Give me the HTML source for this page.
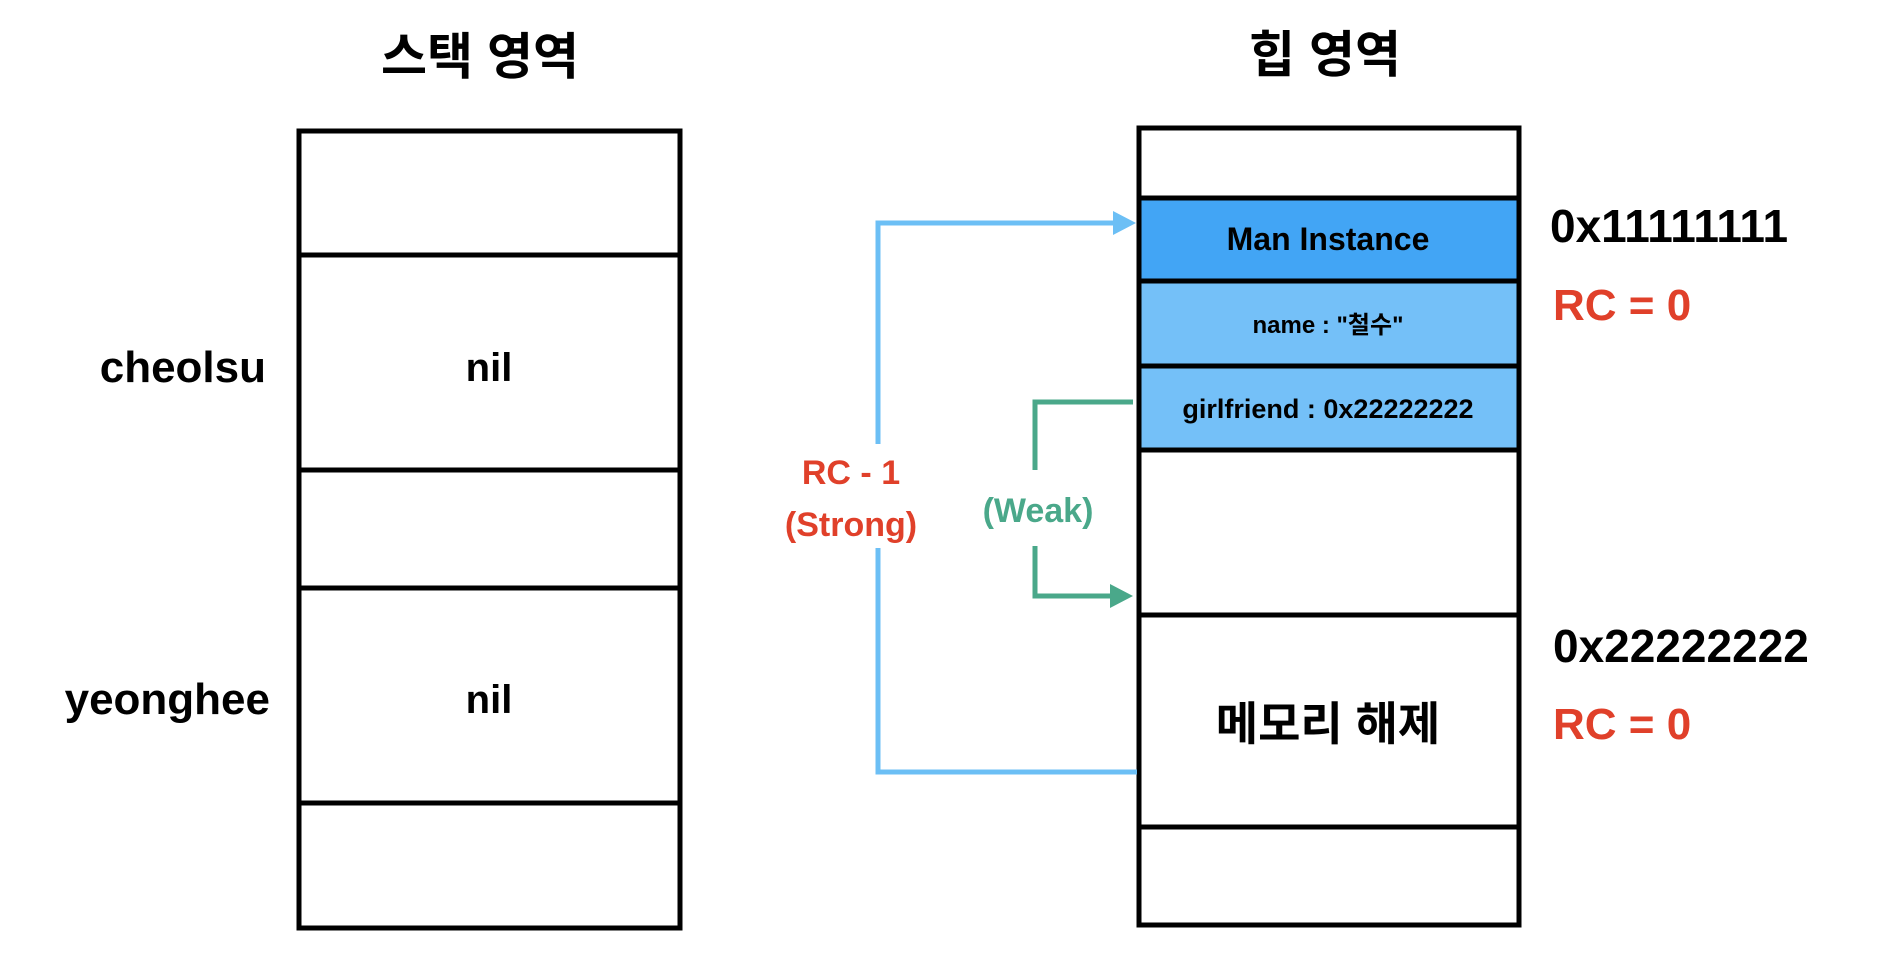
<!DOCTYPE html>
<html><head><meta charset="utf-8"><style>
body{margin:0;background:#fff;}
svg text{font-family:"Liberation Sans","Noto Sans CJK KR",sans-serif;font-weight:bold;}
</style></head><body>
<svg width="1880" height="962" viewBox="0 0 1880 962" xmlns="http://www.w3.org/2000/svg">
<!-- titles -->
<text x="480" y="74" font-size="50" text-anchor="middle">스택 영역</text>
<text x="1325" y="72" font-size="50" text-anchor="middle">힙 영역</text>
<!-- stack -->
<rect x="299" y="131" width="381" height="797" fill="#fff" stroke="#000" stroke-width="5"/>
<g stroke="#000" stroke-width="5">
<line x1="299" y1="255" x2="680" y2="255"/>
<line x1="299" y1="470" x2="680" y2="470"/>
<line x1="299" y1="588" x2="680" y2="588"/>
<line x1="299" y1="803" x2="680" y2="803"/>
</g>
<text x="266" y="382" font-size="44" text-anchor="end">cheolsu</text>
<text x="270" y="714" font-size="44" text-anchor="end">yeonghee</text>
<text x="489" y="381" font-size="40" text-anchor="middle">nil</text>
<text x="489" y="713" font-size="40" text-anchor="middle">nil</text>
<!-- heap -->
<rect x="1139" y="128" width="380" height="797" fill="#fff" stroke="#000" stroke-width="5"/>
<rect x="1139" y="198" width="380" height="83" fill="#42a5f5"/>
<rect x="1139" y="281" width="380" height="169" fill="#74c0f8"/>
<rect x="1139" y="128" width="380" height="797" fill="none" stroke="#000" stroke-width="5"/>
<g stroke="#000" stroke-width="5">
<line x1="1139" y1="198" x2="1519" y2="198"/>
<line x1="1139" y1="281" x2="1519" y2="281"/>
<line x1="1139" y1="366" x2="1519" y2="366"/>
<line x1="1139" y1="450" x2="1519" y2="450"/>
<line x1="1139" y1="615" x2="1519" y2="615"/>
<line x1="1139" y1="827" x2="1519" y2="827"/>
</g>
<text x="1328" y="250" font-size="32" text-anchor="middle">Man Instance</text>
<text x="1328" y="333" font-size="24" text-anchor="middle">name : "철수"</text>
<text x="1328" y="418" font-size="27" text-anchor="middle">girlfriend : 0x22222222</text>
<text x="1328" y="740" font-size="46" text-anchor="middle">메모리 해제</text>
<!-- right labels -->
<text x="1550" y="242" font-size="46">0x11111111</text>
<text x="1553" y="320" font-size="44" fill="#e0402a">RC = 0</text>
<text x="1553" y="662" font-size="46">0x22222222</text>
<text x="1553" y="739" font-size="44" fill="#e0402a">RC = 0</text>
<!-- blue connector -->
<g stroke="#6cbff5" stroke-width="5" fill="none">
<polyline points="1116,223 878,223 878,444"/>
<polyline points="878,548 878,772 1137,772"/>
</g>
<polygon points="1113,211 1136,223 1113,235" fill="#6cbff5"/>
<text x="851" y="484" font-size="34" fill="#e0402a" text-anchor="middle">RC - 1</text>
<text x="851" y="536" font-size="34" fill="#e0402a" text-anchor="middle">(Strong)</text>
<!-- green connector -->
<g stroke="#4aa88a" stroke-width="5" fill="none">
<polyline points="1133,402 1035,402 1035,470"/>
<polyline points="1035,546 1035,596 1112,596"/>
</g>
<polygon points="1110,584 1133,596 1110,608" fill="#4aa88a"/>
<text x="1038" y="522" font-size="34" fill="#4aa88a" text-anchor="middle">(Weak)</text>
</svg>
</body></html>
